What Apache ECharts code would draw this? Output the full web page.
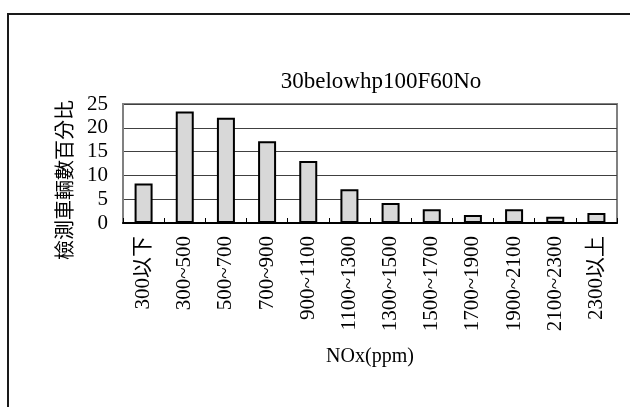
<!DOCTYPE html>
<html>
<head>
<meta charset="utf-8">
<script src="https://cdn.jsdelivr.net/npm/echarts@6/dist/echarts.min.js"></script>
<style>
html,body{margin:0;padding:0;background:#fff;}
#chart{width:630px;height:407px;}
</style>
</head>
<body>
<div id="chart"></div>
<script>
const categories = ['300以下','300~500','500~700','700~900','900~1100','1100~1300','1300~1500','1500~1700','1700~1900','1900~2100','2100~2300','2300以上'];
const values = [8.3, 23.4, 22.1, 17.2, 13.0, 7.1, 4.2, 2.9, 1.7, 2.9, 1.3, 2.1];
const yTicks = [0, 5, 10, 15, 20, 25];
const titleText = '30belowhp100F60No';
const xName = 'NOx(ppm)';
const yName = '檢測車輛數百分比';

const FONT = '"Liberation Serif", "Noto Sans CJK TC", serif';
const chart = echarts.init(document.getElementById('chart'), null, {renderer: 'canvas'});
chart.setOption({
  backgroundColor: '#ffffff',
  animation: false,
  title: {
    text: titleText,
    left: 376, top: 65,
    textAlign: 'center',
    textStyle: {fontFamily: FONT, fontSize: 23, fontWeight: 'normal', color: '#000'}
  },
  graphic: [
    {type: 'rect', shape: {x: 8, y: 14, width: 700, height: 500}, style: {fill: 'none', stroke: '#1a1a1a', lineWidth: 2}, silent: true, z: -1},
    {type: 'text', x: 64, y: 180, rotation: Math.PI / 2,
     style: {text: yName, fontFamily: '"Noto Sans CJK TC"', fontSize: 20, fill: '#000', align: 'center', verticalAlign: 'middle'}}
  ],
  grid: {left: 123, right: 13, top: 104, bottom: 184, show: true, borderColor: '#808080', borderWidth: 2, backgroundColor: 'transparent'},
  xAxis: {
    type: 'category',
    data: categories,
    name: xName,
    nameLocation: 'middle',
    nameGap: 124,
    nameTextStyle: {fontFamily: FONT, fontSize: 20, color: '#000'},
    axisLine: {show: true, lineStyle: {color: '#000', width: 2}},
    axisTick: {show: true, inside: true, length: 5, lineStyle: {color: '#000', width: 1}},
    axisLabel: {rotate: 90, interval: 0, margin: 13, fontFamily: FONT, fontSize: 21, color: '#000'}
  },
  yAxis: {
    type: 'value',
    min: yTicks[0], max: yTicks[yTicks.length - 1], interval: 5,
    axisLine: {show: true, lineStyle: {color: '#808080', width: 2}},
    axisTick: {show: false},
    axisLabel: {margin: 15, fontFamily: FONT, fontSize: 21, color: '#000'},
    splitLine: {show: true, lineStyle: {color: '#404040', width: 1}}
  },
  series: [{
    type: 'bar',
    data: values,
    barWidth: 18,
    itemStyle: {color: '#d8d8d8', borderColor: '#000', borderWidth: 2}
  }]
});
</script>
</body>
</html>
